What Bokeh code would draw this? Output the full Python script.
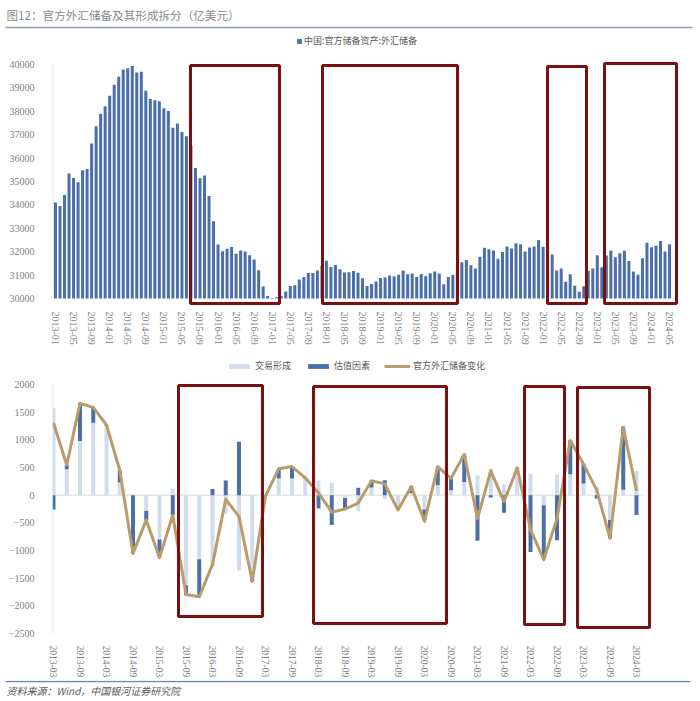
import numpy as np
from bokeh.plotting import figure
from bokeh.layouts import column
from bokeh.models import (ColumnDataSource, FixedTicker, Legend, LegendItem,
                          BoxAnnotation, Range1d)
from bokeh.core.properties import value
from bokeh.embed import file_html
from bokeh.resources import INLINE

# ---------------- data ----------------
title_text = "图12：官方外汇储备及其形成拆分（亿美元）"
source_text = "资料来源：Wind，中国银河证券研究院"
top_series_name = "中国:官方储备资产:外汇储备"
trade_name = "交易形成"
valuation_name = "估值因素"
change_name = "官方外汇储备变化"

months = [f"{y}-{m:02d}" for y in range(2013, 2025) for m in range(1, 13)][:137]

reserves = [
    34100, 33950, 34426, 35345, 35148, 34967, 35478, 35530, 36627, 37366, 37895, 38213,  # 2013
    38666, 39137, 39481, 39788, 39839, 39932, 39661, 39688, 38877, 38529, 38473, 38430,  # 2014
    38134, 38015, 37301, 37481, 37111, 36938, 36513, 35574, 35141, 35255, 34383, 33304,  # 2015
    32309, 32023, 32126, 32197, 31917, 32052, 32011, 31851, 31664, 31206, 30516, 30105,  # 2016
    29982, 30051, 30091, 30295, 30536, 30568, 30807, 30915, 31085, 31092, 31193, 31399,  # 2017
    31615, 31345, 31428, 31249, 31106, 31121, 31179, 31097, 30870, 30531, 30617, 30727,  # 2018
    30879, 30902, 30988, 30950, 31010, 31192, 31037, 31072, 30924, 31052, 30956, 31079,  # 2019
    31155, 31067, 30606, 30915, 31017, 31123, 31544, 31646, 31426, 31280, 31785, 32165,  # 2020
    32107, 32050, 31700, 31982, 32218, 32140, 32359, 32321, 32006, 32176, 32224, 32502,  # 2021
    32216, 32138, 31880, 31197, 31278, 30713, 31040, 30549, 30290, 30524, 31175, 31277,  # 2022
    31845, 31332, 31839, 32048, 31765, 31930, 32043, 31601, 31151, 31012, 31718, 32380,  # 2023
    32193, 32258, 32457, 32008, 32320,                                                   # 2024
]

quarters = [f"{y}-{m:02d}" for y in range(2013, 2025) for m in (3, 6, 9, 12)][:45]

trade = [1580, 470, 980, 1310, 1250, 230, 0, -285, -800, 120,
         -1630, -1160, -1290, -330, -1360, -1510, 10, 300, 300, 300,
         265, 230, -50, -290, 140, -70, -200, 40, -260, 180,
         90, 240, 360, 480, 195, 480, 385, -180, 375, 380,
         210, 150, -450, 100, 435]
valuation = [-260, 75, 680, 275, 15, 220, -1050, -170, -315, -360,
             -180, -660, 110, 265, 965, -50, -20, 165, 210, 15,
             -240, -540, -200, 135, 120, 270, -60, 120, -190, 330,
             210, 480, -825, -40, -320, 15, -1025, -965, -815, 615,
             360, -60, -330, 1135, -360]
change = [1310, 541, 1660, 1586, 1268, 451, -1055, -447, -1129, -363,
          -1797, -1837, -1250, -74, -388, -1559, -14, 477, 517, 314,
          40, -307, -251, -143, 261, 204, -268, 155, -473, 517,
          303, 739, -420, 440, -120, 496, -622, -1167, -423, 987,
          562, 91, -779, 1229, 77]

# ---------------- style / layout constants ----------------
FONT = "Liberation Serif"
CJK = "Noto Sans CJK SC"
DARK = "#4a6fa9"
LIGHT = "#d0dbec"
TAN = "#ba9c6c"
RED = "#7d0f10"
GRAY_TXT = "#7f7f7f"
AXIS_GRAY = "#d9d9d9"
W = 700

# section heights (canvas pixels)
H_HEAD, H_P1, H_MID, H_P2, H_FOOT = 50, 305, 23, 302, 21
Y_P1 = H_HEAD
Y_MID = Y_P1 + H_P1
Y_P2 = Y_MID + H_MID
Y_FOOT = Y_P2 + H_P2

# chart 1 geometry (canvas pixels)
S1 = 4.515                     # px per month
Y1MIN, Y1MAX = 30000, 40000
Y1_PX_MIN, Y1_PX_MAX = 298, 64  # pixel rows of 30000 / 40000
K1 = (Y1_PX_MIN - Y1_PX_MAX) / (Y1MAX - Y1MIN)
F1L, F1R, F1T, F1B = 52, 680, 60, 305
X1S = -(55 - F1L) / S1
X1E = X1S + (F1R - F1L) / S1
Y1R_TOP = Y1MAX + (Y1_PX_MAX - F1T) / K1
Y1R_BOT = Y1MIN - (F1B - Y1_PX_MIN) / K1

# chart 2 geometry
S2 = 13.25
Y2MIN, Y2MAX = -2500, 2000
Y2_PX_MIN, Y2_PX_MAX = 633, 384
K2 = (Y2_PX_MIN - Y2_PX_MAX) / (Y2MAX - Y2MIN)
F2L, F2R, F2T, F2B = 52, 653, 380, 633
X2S = -(53 - F2L) / S2
X2E = X2S + (F2R - F2L) / S2
Y2R_TOP = Y2MAX + (Y2_PX_MAX - F2T) / K2
Y2R_BOT = Y2MIN - (F2B - Y2_PX_MIN) / K2


def px1(px):
    return X1S + (px - F1L) / S1


def py1(py):
    return Y1MAX - (py - Y1_PX_MAX) / K1


def px2(px):
    return X2S + (px - F2L) / S2


def py2(py):
    return Y2MAX - (py - Y2_PX_MAX) / K2


def strip(h):
    s = figure(width=W, height=h, x_range=Range1d(0, W), y_range=Range1d(h, 0),
               x_axis_type=None, y_axis_type=None, output_backend="svg", toolbar_location=None,
               min_border=0, min_border_left=0, min_border_right=0, min_border_top=0,
               min_border_bottom=0, frame_align=False)
    s.outline_line_color = None
    s.xgrid.visible = False
    s.ygrid.visible = False
    return s


def style_axes(p, size):
    for ax in (p.xaxis[0], p.yaxis[0]):
        ax.axis_line_color = None
        ax.major_tick_line_color = None
        ax.minor_tick_line_color = None
        ax.major_label_text_color = GRAY_TXT
        ax.major_label_text_font = FONT
        ax.major_label_text_font_size = size
    p.xgrid.visible = False
    p.ygrid.visible = False
    p.outline_line_color = None


# ---------------- header ----------------
head = strip(H_HEAD)
head.text(x=[6], y=[14], text=[title_text], text_font=value(CJK), text_font_size="11.6px",
          text_color="#8a8a8a", text_baseline="middle", text_align="left")
head.segment(x0=[5], y0=[27], x1=[692], y1=[27], line_color="#8d9bb8", line_width=1.5)
proxy_top = head.vbar(x=[-1000], top=[0], width=1, fill_color=DARK, line_color=None)
leg_top = Legend(items=[LegendItem(label=top_series_name, renderers=[proxy_top])],
                 location=(296, H_HEAD - 47), orientation="horizontal",
                 glyph_width=6, glyph_height=6, label_height=10, label_standoff=2,
                 padding=0, margin=0, border_line_alpha=0, background_fill_alpha=0,
                 label_text_font=CJK, label_text_font_size="9px", label_text_color="#595959")
head.add_layout(leg_top)

# ---------------- chart 1 ----------------
p1 = figure(width=W, height=H_P1, x_range=Range1d(X1S, X1E), y_range=Range1d(Y1R_BOT, Y1R_TOP),
            output_backend="svg", toolbar_location=None, frame_align=False,
            min_border_left=F1L, min_border_right=W - F1R,
            min_border_top=F1T - Y_P1, min_border_bottom=Y_P1 + H_P1 - F1B)
style_axes(p1, "10px")
src1 = ColumnDataSource(dict(x=list(range(len(reserves))), v=reserves))
p1.segment(x0=[px1(52.5)], y0=[Y1MIN], x1=[px1(52.5)], y1=[Y1MAX], line_color=AXIS_GRAY, line_width=1)
p1.vbar(x="x", top="v", bottom=Y1MIN, width=0.67, fill_color=DARK, line_color=None, source=src1)

p1.yaxis.ticker = FixedTicker(ticks=list(range(Y1MIN, Y1MAX + 1, 1000)))
p1.yaxis.major_label_standoff = 12
xt1 = list(range(0, len(months), 4))
p1.xaxis.ticker = FixedTicker(ticks=xt1)
p1.xaxis.major_label_overrides = {i: months[i] for i in xt1}
p1.xaxis.major_label_orientation = "vertical"
p1.xaxis.major_label_standoff = 0

top_boxes = [(190, 279, 65, 303), (322, 457, 65, 303), (547, 586, 66, 303), (604, 676, 63, 303)]
for (l, r, t, b) in top_boxes:
    p1.add_layout(BoxAnnotation(left=px1(l), right=px1(r), top=py1(t), bottom=py1(b),
                                fill_alpha=0, line_color=RED, line_alpha=1, line_width=3))

# ---------------- middle legend strip ----------------
mid = strip(H_MID)
proxy_l = mid.vbar(x=[-1000], top=[0], width=1, fill_color=LIGHT, line_color=None)
proxy_d = mid.vbar(x=[-1000], top=[0], width=1, fill_color=DARK, line_color=None)
proxy_c = mid.line(x=[-1000, -999], y=[0, 0], line_color=TAN, line_width=3)
leg2 = Legend(items=[LegendItem(label=trade_name, renderers=[proxy_l]),
                     LegendItem(label=valuation_name, renderers=[proxy_d]),
                     LegendItem(label=change_name, renderers=[proxy_c])],
              location=(226, H_MID - 17), orientation="horizontal",
              glyph_width=26, glyph_height=6, label_height=10, label_standoff=3, spacing=14,
              padding=0, margin=0, border_line_alpha=0, background_fill_alpha=0,
              label_text_font=CJK, label_text_font_size="9px", label_text_color="#595959")
mid.add_layout(leg2)

# ---------------- chart 2 ----------------
p2 = figure(width=W, height=H_P2, x_range=Range1d(X2S, X2E), y_range=Range1d(Y2R_BOT, Y2R_TOP),
            output_backend="svg", toolbar_location=None, frame_align=False,
            min_border_left=F2L, min_border_right=W - F2R,
            min_border_top=F2T - Y_P2, min_border_bottom=Y_P2 + H_P2 - F2B)
style_axes(p2, "9.5px")

trade_a = np.array(trade, dtype=float)
val_a = np.array(valuation, dtype=float)
same = np.sign(val_a) == np.sign(trade_a)
dk_bot = np.where(same, trade_a, 0.0)
dk_top = dk_bot + val_a
n_q = len(quarters)
src2 = ColumnDataSource(dict(x=list(range(n_q)), lt=trade_a, lb=np.zeros(n_q),
                             dt=dk_top, db=dk_bot, c=change))

p2.segment(x0=[px2(52.5)], y0=[Y2MIN], x1=[px2(52.5)], y1=[Y2MAX], line_color=AXIS_GRAY, line_width=1)
p2.segment(x0=[px2(52)], y0=[0], x1=[px2(643)], y1=[0], line_color=AXIS_GRAY, line_width=1)
p2.vbar(x="x", top="lt", bottom="lb", width=0.3, fill_color=LIGHT, line_color=None, source=src2)
p2.vbar(x="x", top="dt", bottom="db", width=0.3, fill_color=DARK, line_color=None, source=src2)
p2.line(x="x", y="c", line_color=TAN, line_width=3, line_join="round", source=src2)

p2.yaxis.ticker = FixedTicker(ticks=list(range(Y2MIN, Y2MAX + 1, 500)))
p2.yaxis.major_label_standoff = 12
p2.yaxis.major_label_text_font_size = "10px"
xt2 = list(range(0, n_q, 2))
p2.xaxis.ticker = FixedTicker(ticks=xt2)
p2.xaxis.major_label_overrides = {i: quarters[i] for i in xt2}
p2.xaxis.major_label_orientation = "vertical"
p2.xaxis.major_label_standoff = 6

bottom_boxes = [(178, 262, 385, 616), (313, 446, 386, 623), (524, 564, 386, 624), (577, 649, 387, 627)]
for (l, r, t, b) in bottom_boxes:
    p2.add_layout(BoxAnnotation(left=px2(l), right=px2(r), top=py2(t), bottom=py2(b),
                                fill_alpha=0, line_color=RED, line_alpha=1, line_width=3))

# ---------------- footer ----------------
foot = strip(H_FOOT)
foot.segment(x0=[5], y0=[1], x1=[690], y1=[1], line_color="#7389b8", line_width=1.5)
foot.text(x=[6], y=[10], text=[source_text], text_font=value(CJK), text_font_size="10px",
          text_font_style="italic", text_color="#595959", text_baseline="middle", text_align="left")

layout = column(head, p1, mid, p2, foot, spacing=0)
open("out.html", "w").write(file_html(layout, INLINE))
